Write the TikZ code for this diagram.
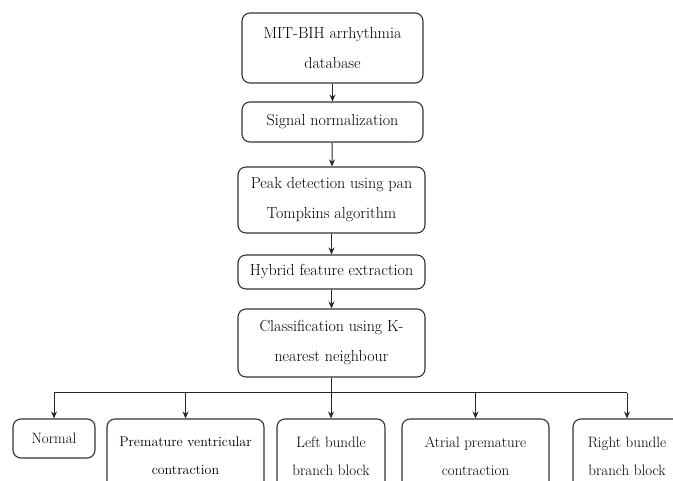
\documentclass[tikz,border=0pt]{standalone}
\usetikzlibrary{arrows.meta,positioning,calc}

\begin{document}
\begin{tikzpicture}[x=1pt,y=-1pt]
\tikzset{
    stage/.style={rectangle,rounded corners=8pt,draw=black!80,line width=1.1pt,
      align=center,inner sep=2pt,font=\fontsize{16}{30}\selectfont},
    leaf/.style={stage,minimum height=74pt,font=\fontsize{15}{28}\selectfont},
    flow/.style={-{Stealth[length=7pt,width=6pt]},draw=black!85,line width=1pt}
}
\useasboundingbox (0,0) rectangle (673,481);
\clip (0,0) rectangle (673,481);
  % pipeline
\node[stage,minimum width=181pt,minimum height=70pt] (db) at (332.5,48) {MIT-BIH arrhythmia\\database};
\node[stage,minimum width=181pt,minimum height=40pt] (norm) at (332.5,122) {Signal normalization};
\node[stage,minimum width=187pt,minimum height=66pt] (peak) at (331.5,200) {Peak detection using pan\\Tompkins algorithm};
\node[stage,minimum width=187pt,minimum height=34pt] (hyb) at (331.5,272) {Hybrid feature extraction};
\node[stage,minimum width=187pt,minimum height=68pt] (cls) at (331.5,343) {Classification using K-\\nearest neighbour};
  % classes
\node[leaf,minimum width=82pt,minimum height=39pt] (normal) at (54,438.5) {Normal};
\node[leaf,minimum width=157pt,font=\fontsize{14}{28}\selectfont] (pvc) at (185.5,456) {Premature ventricular\\contraction};
\node[leaf,minimum width=108pt] (lbb) at (331,456) {Left bundle\\branch block};
\node[leaf,minimum width=147pt] (apc) at (475.5,456) {Atrial premature\\contraction};
\node[leaf,minimum width=108pt] (rbb) at (627,456) {Right bundle\\branch block};
  % edges
\path[flow]
(db) edge (norm)
(norm) edge (peak)
(peak) edge (hyb)
(hyb) edge (cls)
;
\coordinate (bus) at (331.5,393);
\draw[draw=black!85,line width=1pt] (cls.south) -- (bus);
\draw[draw=black!85,line width=1pt] (normal.north |- bus) -- (rbb.north |- bus);
\foreach \k in {normal,pvc,lbb,apc,rbb}
  \draw[flow] (\k.north |- bus) -- (\k.north);
\end{tikzpicture}
\end{document}
